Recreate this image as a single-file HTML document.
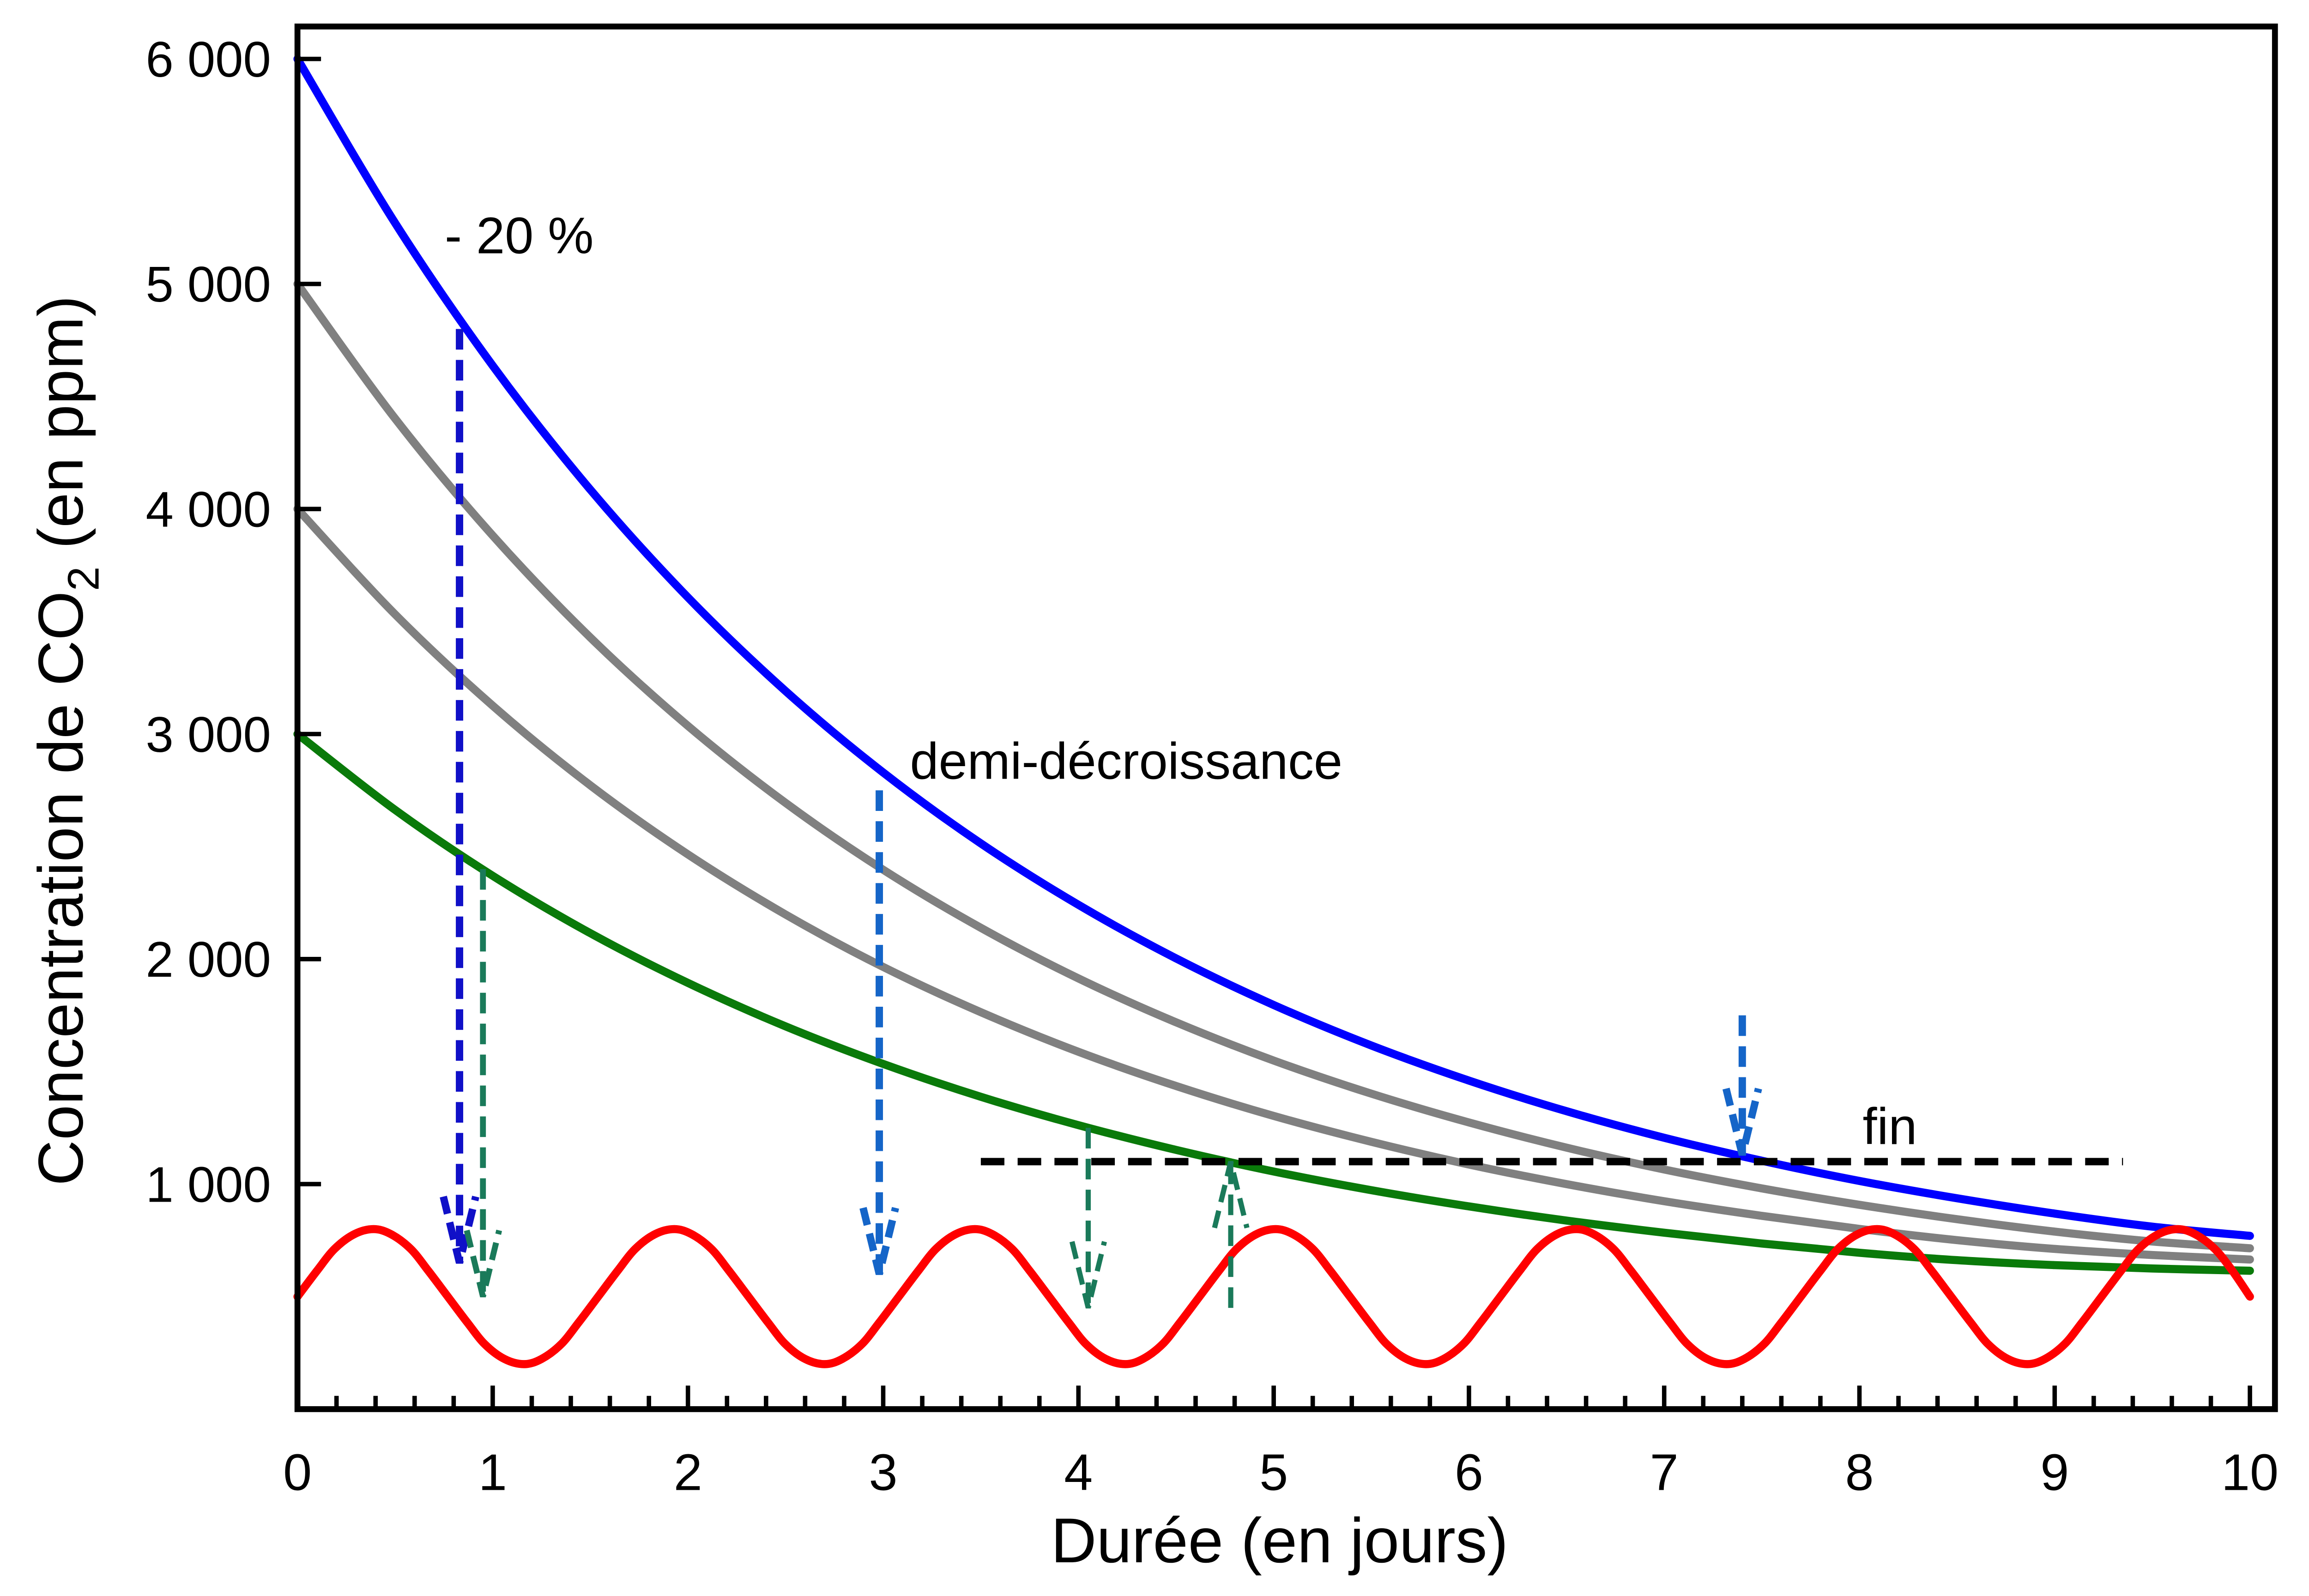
<!DOCTYPE html>
<html><head><meta charset="utf-8"><style>html,body{margin:0;padding:0;background:#fff}svg{display:block}</style></head>
<body>
<svg id="chart" xmlns="http://www.w3.org/2000/svg" width="5022" height="3456" viewBox="0 0 1575 1083.9" font-family="Liberation Sans, Arial, sans-serif">
<rect x="0" y="0" width="1575" height="1083.9" fill="#fff"/>
<g id="marks"></g>
<rect x="202" y="18" width="1343" height="939" fill="none" stroke="#000" stroke-width="4"/>
<g id="axes"></g>
<text transform="translate(56,503) rotate(-90)" text-anchor="middle" font-size="43">Concentration de CO<tspan font-size="30" dy="11">2</tspan><tspan dy="-11"> (en ppm)</tspan></text>
<text x="869" y="1061" text-anchor="middle" font-size="43">Durée (en jours)</text>
<text x="302" y="172" font-size="35">- 20 %</text>
<text x="618" y="529" font-size="35">demi-décroissance</text>
<text x="1265" y="777" font-size="35">fin</text>
</svg>
<script>
const tDecay = [0,0.5,1,1.5,2,2.5,3,3.5,4,4.5,5,5.5,6,6.5,7,7.5,8,8.5,9,9.5,10];
const blueValues = [6000,5271,4637,4086,3607,3191,2829,2514,2241,2003,1796,1616,1460,1324,1206,1104,1014,937,869,811,770];
const gray5000Values = [5000,4402,3882,3429,3036,2694,2397,2139,1914,1719,1549,1402,1274,1162,1065,981,908,844,789,745,715];
const gray4000Values = [4000,3532,3126,2772,2465,2198,1965,1764,1588,1436,1303,1188,1087,1000,924,859,801,751,712,685,665];
const greenValues = [3000,2663,2370,2115,1894,1701,1534,1388,1262,1152,1056,973,901,838,784,736,695,662,640,625,615];
const tRed = [0,0.10,0.19,0.29,0.39,0.48,0.58,0.67,0.77,0.87,0.96,1.06,1.16,1.25,1.35,1.44,1.54,1.64,1.73,1.83,1.93,2.02,2.12,2.21,2.31,2.41,2.50,2.60,2.70,2.79,2.89,2.98,3.08,3.18,3.27,3.37,3.47,3.56,3.66,3.75,3.85,3.95,4.04,4.14,4.24,4.33,4.43,4.52,4.62,4.72,4.81,4.91,5.01,5.10,5.20,5.29,5.39,5.49,5.58,5.68,5.78,5.87,5.97,6.06,6.16,6.26,6.35,6.45,6.55,6.64,6.74,6.83,6.93,7.03,7.12,7.22,7.32,7.41,7.51,7.60,7.70,7.80,7.89,7.99,8.09,8.18,8.28,8.37,8.47,8.57,8.66,8.76,8.86,8.95,9.05,9.14,9.24,9.34,9.43,9.53,9.63,9.72,9.82,9.91,10.0];
const redValues = [
500,615,712,777,800,777,712,615,500,385,288,223,200,223,288,385,
500,615,712,777,800,777,712,615,500,385,288,223,200,223,288,385,
500,615,712,777,800,777,712,615,500,385,288,223,200,223,288,385,
500,615,712,777,800,777,712,615,500,385,288,223,200,223,288,385,
500,615,712,777,800,777,712,615,500,385,288,223,200,223,288,385,
500,615,712,777,800,777,712,615,500,385,288,223,200,223,288,385,
500,615,712,777,800,777,712,615,500];
const xTicks = [0,1,2,3,4,5,6,7,8,9,10];
const xTickLabels = ["0","1","2","3","4","5","6","7","8","9","10"];
const yTicks = [1000,2000,3000,4000,5000,6000];
const yTickLabels = ["1 000","2 000","3 000","4 000","5 000","6 000"];
const finLevel = 1100;
const finStart = 3.5, finEnd = 9.35;
const arrowX = [0.83, 0.95, 2.98, 4.05, 4.78, 7.4];
const arrowFrom = [4800, 2400, 2750, 1250, 450, 1750];
const arrowTo = [650, 500, 600, 450, 1100, 1130];

const NS = "http://www.w3.org/2000/svg";
const X = t => 202 + t * 132.6;
const Y = v => 957 - v * 0.15283;
const marks = document.getElementById('marks');
const axes = document.getElementById('axes');

function mk(tag, attrs, parent) {
  const e = document.createElementNS(NS, tag);
  for (const k in attrs) e.setAttribute(k, attrs[k]);
  parent.appendChild(e);
  return e;
}
function smoothPath(ts, vs) {
  const p = ts.map((t, i) => [X(t), Y(vs[i])]);
  let d = `M${p[0][0]},${p[0][1]}`;
  for (let i = 0; i < p.length - 1; i++) {
    const p0 = p[i - 1] || p[i], p1 = p[i], p2 = p[i + 1], p3 = p[i + 2] || p2;
    const c1 = [p1[0] + (p2[0] - p0[0]) / 6, p1[1] + (p2[1] - p0[1]) / 6];
    const c2 = [p2[0] - (p3[0] - p1[0]) / 6, p2[1] - (p3[1] - p1[1]) / 6];
    d += ` C${c1[0]},${c1[1]} ${c2[0]},${c2[1]} ${p2[0]},${p2[1]}`;
  }
  return d;
}

xTicks.forEach((t, i) => {
  const tk = mk('line', {x1: X(t), x2: X(t), y1: 957, y2: 941, stroke: '#000', 'stroke-width': 3}, axes);
  
  
  const lb = mk('text', {x: X(t), y: 1012, 'text-anchor': 'middle', 'font-size': 35}, axes);
  lb.textContent = xTickLabels[i];
  
  
  if (i < xTicks.length - 1) {
    for (let m = 1; m < 5; m++) {
      const mt = mk('line', {x1: X(t + m * 0.2), x2: X(t + m * 0.2), y1: 957, y2: 948, stroke: '#000', 'stroke-width': 3}, axes);
      
      
    }
  }
});
yTicks.forEach((v, i) => {
  const tk = mk('line', {x1: 202, x2: 218, y1: Y(v), y2: Y(v), stroke: '#000', 'stroke-width': 3}, axes);
  
  
  const lb = mk('text', {x: 184, y: Y(v) + 12, 'text-anchor': 'end', 'font-size': 34}, axes);
  lb.textContent = yTickLabels[i];
  
  
});

const series = [
  [tDecay, gray4000Values, '#808080', 'gray-curve-4000'],
  [tDecay, gray5000Values, '#808080', 'gray-curve-5000'],
  [tDecay, greenValues, '#0a7a0a', 'green-curve-3000'],
  [tDecay, blueValues, '#0000ff', 'blue-curve-6000'],
  [tRed, redValues, '#ff0000', 'red-oscillation-curve']
];
series.forEach(s => {
  const p = mk('path', {d: smoothPath(s[0], s[1]), fill: 'none', stroke: s[2], 'stroke-width': 5.5, 'stroke-linecap': 'round', 'stroke-linejoin': 'round'}, marks);
  
  
});

const fl = mk('line', {x1: X(finStart), x2: X(finEnd), y1: Y(finLevel), y2: Y(finLevel), stroke: '#000', 'stroke-width': 5, 'stroke-dasharray': '16 9'}, marks);



const arrowColors = ['#1010c8', '#1a7a5a', '#1565c8', '#1a7a5a', '#1a7a5a', '#1565c8'];
const arrowWidths = [5, 4, 5, 3.5, 3.5, 5];
arrowX.forEach((t, i) => {
  const x = X(t), y1 = Y(arrowFrom[i]), y2 = Y(arrowTo[i]);
  const dir = y2 > y1 ? 1 : -1;
  const g = mk('g', {stroke: arrowColors[i], 'stroke-width': arrowWidths[i], fill: 'none', 'stroke-dasharray': '14 7'}, marks);
  
  
  mk('line', {x1: x, x2: x, y1: y1, y2: y2}, g);
  mk('polyline', {points: `${x - 11},${y2 - dir * 45} ${x},${y2} ${x + 11},${y2 - dir * 45}`, 'stroke-dasharray': '12 6'}, g);
});
</script>
</body></html>
